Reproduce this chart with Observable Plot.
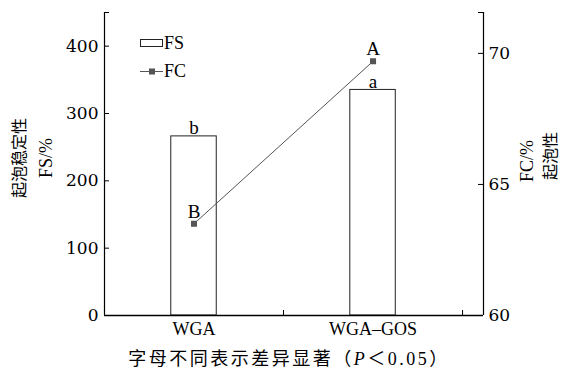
<!DOCTYPE html>
<html><head><meta charset="utf-8">
<script src="https://cdn.jsdelivr.net/npm/d3@7"></script>
<script src="https://cdn.jsdelivr.net/npm/@observablehq/plot@0.6"></script>
<style>body{margin:0;background:#fff;overflow:hidden} svg{display:block}</style>
</head><body><div id="chart"></div>
<script>
const categories = ["WGA", "WGA–GOS"];
const fsValues = [266, 335];
const fcValues = [63.5, 69.7];
const fsLetters = ["b", "a"];
const fcLetters = ["B", "A"];
const fsTicks = [0, 100, 200, 300, 400];
const fcTicks = [60, 65, 70];
const fsMax = 450;
const fcRange = [60, 71.56];

const fcToFs = d3.scaleLinear(fcRange, [0, fsMax]);
const data = categories.map((c, i) => ({
  cat: c, idx: i + 1, fs: fsValues[i], fc: fcValues[i],
  fsL: fsLetters[i], fcL: fcLetters[i], fcY: fcToFs(fcValues[i])
}));
const xDomain = [0.5, 2.617];
const halfW = 0.127;
const serif = '"Liberation Serif", "Times New Roman", serif';
const numFont = '"DejaVu Serif", "Liberation Serif", serif';
const cjk = '"Noto Sans CJK SC", "Liberation Serif", serif';

const W = 561, H = 371, mL = 104, mR = 78, mT = 12, mB = 56;
const frameW = W - mL - mR, frameH = H - mT - mB;
const T = {fontFamily: serif, fontSize: 18, fill: "#000"};
const N = {fontFamily: numFont, fontSize: 17, fill: "#000"};

const plot = Plot.plot({
  width: W, height: H, marginLeft: mL, marginRight: mR, marginTop: mT, marginBottom: mB,
  style: "font-family: 'Liberation Serif', serif; font-size: 18px; color: #000; background: #fff; overflow: visible;",
  x: {domain: xDomain, axis: null},
  y: {domain: [0, fsMax], axis: null},
  marks: [
    Plot.rect(data, {x1: d => d.idx - halfW, x2: d => d.idx + halfW, y1: () => 0, y2: "fs", fill: "white", stroke: "#222", strokeWidth: 1}),
    Plot.line(data, {x: "idx", y: "fcY", stroke: "#555", strokeWidth: 1}),
    Plot.dot(data, {x: "idx", y: "fcY", symbol: "square", r: 3.4, fill: "#555", stroke: "none"}),
    Plot.text(data, {x: "idx", y: "fs", text: "fsL", lineAnchor: "bottom", dy: -2, ...T, fontSize: 19}),
    Plot.text(data, {x: "idx", y: "fcY", text: "fcL", lineAnchor: "bottom", dy: -6, ...T, fontSize: 19}),
    Plot.ruleX([xDomain[0], xDomain[1]], {stroke: "#000", strokeWidth: 1.2}),
    Plot.ruleY([0], {stroke: "#000", strokeWidth: 1.5}),
    Plot.tickY([...fsTicks, fsMax], {y: d => d, insetRight: frameW - 5, stroke: "#000"}),
    Plot.tickY([...fcTicks.map(fcToFs), fsMax], {y: d => d, insetLeft: frameW - 5, stroke: "#000"}),
    Plot.tickX([1.5, 2.5], {x: d => d, insetTop: frameH - 5, stroke: "#000"}),
    Plot.axisY(fsTicks, {anchor: "left", tickSize: 0, tickPadding: 6, label: null, ...N}),
    Plot.axisY(fcTicks.map(fcToFs), {anchor: "right", tickSize: 0, tickPadding: 5, label: null, ...N,
      tickFormat: d => String(Math.round(fcToFs.invert(d)))}),
    Plot.axisX(data.map(d => d.idx), {anchor: "bottom", tickSize: 0, tickPadding: 7, label: null, ...T,
      tickFormat: i => categories[i - 1]}),
    Plot.text(["起泡稳定性"], {frameAnchor: "left", textAnchor: "middle", dx: -85, dy: -6, rotate: -90, ...T, fontFamily: cjk, fontSize: 16}),
    Plot.text(["FS/%"], {frameAnchor: "left", textAnchor: "middle", dx: -58, dy: -6, rotate: -90, ...T}),
    Plot.text(["FC/%"], {frameAnchor: "right", textAnchor: "middle", dx: 44, dy: -3, rotate: -90, ...T}),
    Plot.text(["起泡性"], {frameAnchor: "right", textAnchor: "middle", dx: 67, dy: -8, rotate: -90, ...T, fontFamily: cjk, fontSize: 16})
  ]
});
document.getElementById("chart").appendChild(plot);

// legend and caption
const svg = d3.select(plot);
const lg = svg.append("g").attr("text-anchor", "start");
lg.append("rect").attr("x", 140.5).attr("y", 39.5).attr("width", 22).attr("height", 7)
  .attr("fill", "white").attr("stroke", "#222");
lg.append("text").attr("x", 164).attr("y", 49).attr("font-family", serif).attr("font-size", 18).text("FS");
lg.append("line").attr("x1", 140).attr("x2", 163).attr("y1", 71.5).attr("y2", 71.5).attr("stroke", "#555");
lg.append("rect").attr("x", 149).attr("y", 68.5).attr("width", 6).attr("height", 6).attr("fill", "#555");
lg.append("text").attr("x", 164).attr("y", 77).attr("font-family", serif).attr("font-size", 18).text("FC");

const cap = svg.append("text").attr("x", 289).attr("y", 365).attr("text-anchor", "middle")
  .attr("font-family", cjk).attr("font-size", 18).attr("letter-spacing", 2.5);
cap.append("tspan").text("字母不同表示差异显著（");
cap.append("tspan").attr("font-family", serif).attr("font-style", "italic").text("P");
cap.append("tspan").text("＜");
cap.append("tspan").attr("font-family", serif).text("0.05");
cap.append("tspan").text("）");
</script>
</body></html>
